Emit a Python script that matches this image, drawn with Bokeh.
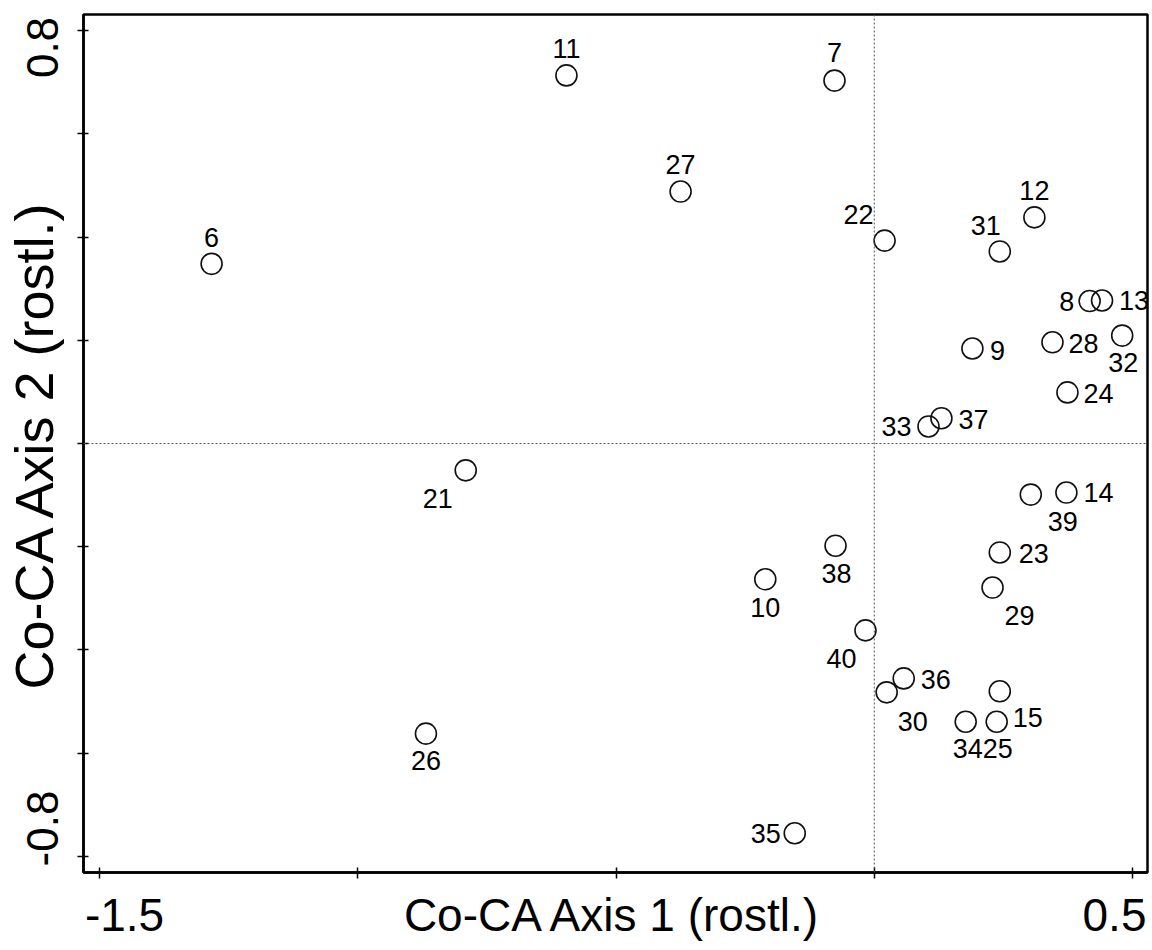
import math
from bokeh.plotting import figure
from bokeh.models import Range1d, FixedTicker, Span, ColumnDataSource, LinearAxis
from bokeh.core.properties import value
from bokeh.embed import file_html
from bokeh.resources import INLINE

# ---- data ----
ids = ["6", "11", "7", "27", "22", "12", "31", "8", "13", "32", "28", "9", "24", "37", "33",
       "21", "14", "39", "38", "23", "10", "29", "40", "36", "30", "15", "34", "25", "26", "35"]
axis1 = [-1.283, -0.596, -0.077, -0.375, 0.020, 0.310, 0.243, 0.417, 0.441, 0.480, 0.345, 0.190, 0.374, 0.130, 0.105,
         -0.791, 0.372, 0.303, -0.075, 0.243, -0.211, 0.229, -0.017, 0.057, 0.024, 0.243, 0.177, 0.237, -0.868, -0.154]
axis2 = [0.348, 0.713, 0.703, 0.488, 0.393, 0.438, 0.372, 0.276, 0.277, 0.209, 0.196, 0.184, 0.099, 0.049, 0.033,
         -0.052, -0.095, -0.099, -0.198, -0.211, -0.263, -0.279, -0.362, -0.455, -0.482, -0.480, -0.539, -0.539, -0.562, -0.755]
x_ticks = [-1.5, -1.0, -0.5, 0.0, 0.5]
y_ticks = [-0.8, -0.6, -0.4, -0.2, 0.0, 0.2, 0.4, 0.6, 0.8]
x_tick_labels = ["-1.5", "0.5"]
y_tick_labels = ["-0.8", "0.8"]
x_title = "Co-CA Axis 1 (rostl.)"
y_title = "Co-CA Axis 2 (rostl.)"

# ---- label placement (screen px: dx right, dy down) ----
label_offsets = {
    "6": (0, -26), "11": (0, -27), "7": (0, -28), "27": (0, -27), "22": (-26, -26),
    "12": (0, -27), "31": (-14, -26), "8": (-23, 0), "13": (32, 0), "32": (1, 27),
    "28": (31, 1), "9": (25, 2), "24": (31, 1), "37": (32, 1), "33": (-32, 0),
    "21": (-28, 28), "14": (32, 0), "39": (32, 27), "38": (1, 28), "23": (34, 1),
    "10": (0, 28), "29": (27, 28), "40": (-24, 28), "36": (32, 1), "30": (26, 29),
    "15": (28, 26), "34": (2, 27), "25": (1, 27), "26": (0, 27), "35": (-29, 0),
}

FONT = "Liberation Sans"
W, H = 1152, 950
FL, FR, FT, FB = 83, 1147, 14, 872          # frame edges in px
xr = (-1.531, 0.529)
yr = (-0.831, 0.831)
ppx = (FR - FL) / (xr[1] - xr[0])
ppy = (FB - FT) / (yr[1] - yr[0])


def px_x(px):
    return round(xr[0] + (px - FL) / ppx, 4)


def px_y(py):
    return round(yr[1] - (py - FT) / ppy, 4)


p = figure(width=W, height=H, output_backend="svg", toolbar_location=None,
           x_range=Range1d(*xr), y_range=Range1d(*yr),
           min_border_left=FL, min_border_right=W - FR, min_border_top=FT, min_border_bottom=H - FB)
p.background_fill_color = "white"
p.border_fill_color = "white"
p.grid.visible = False
p.outline_line_color = "black"
p.outline_line_width = 2.5

for ax, ticks in ((p.xaxis[0], x_ticks), (p.yaxis[0], y_ticks)):
    ax.ticker = FixedTicker(ticks=ticks)
    ax.major_label_text_font_size = "0px"
    ax.major_label_text_color = None
    ax.major_label_standoff = 0
    ax.axis_line_color = "black"
    ax.axis_line_width = 2.5
    ax.major_tick_line_color = "black"
    ax.major_tick_line_width = 1.5
    ax.major_tick_in = 5
    ax.major_tick_out = 6
    ax.minor_tick_line_color = None

# label axes: only end labels, placed flush with the frame corners
xl_pos = [px_x(124), px_x(613), px_x(1114)]
xlab = LinearAxis(ticker=FixedTicker(ticks=xl_pos),
                  major_label_overrides={xl_pos[0]: x_tick_labels[0], xl_pos[1]: x_title,
                                         xl_pos[2]: x_tick_labels[1]})
yl_pos = [px_y(828), px_y(47)]
ylab = LinearAxis(ticker=FixedTicker(ticks=yl_pos),
                  major_label_overrides={yl_pos[0]: y_tick_labels[0], yl_pos[1]: y_tick_labels[1]},
                  major_label_orientation="parallel",
                  axis_label=y_title)
for ax in (xlab, ylab):
    ax.axis_line_color = None
    ax.major_tick_line_color = None
    ax.minor_tick_line_color = None
    ax.major_tick_in = 0
    ax.major_tick_out = 0
    ax.minor_tick_in = 0
    ax.minor_tick_out = 0
    ax.major_label_text_font = FONT
    ax.major_label_text_color = "black"
xlab.major_label_text_font_size = "46px"
xlab.major_label_standoff = 10
ylab.major_label_text_font_size = "44px"
ylab.major_label_standoff = 19
ylab.axis_label_text_font = FONT
ylab.axis_label_text_font_style = "normal"
ylab.axis_label_text_font_size = "54px"
ylab.axis_label_text_color = "black"
ylab.axis_label_standoff = -39
p.add_layout(xlab, "below")
p.add_layout(ylab, "left")

p.add_layout(Span(location=0, dimension="height", line_color="#555555", line_width=1, line_dash="2 2"))
p.add_layout(Span(location=0, dimension="width", line_color="#555555", line_width=1, line_dash="2 2"))

src = ColumnDataSource(dict(
    x=axis1, y=axis2, lab=ids,
    dx=[label_offsets[i][0] for i in ids],
    dy=[label_offsets[i][1] for i in ids],
))
p.scatter("x", "y", source=src, marker="circle", size=21, fill_color=None,
          line_color="#111111", line_width=1.6)
p.text("x", "y", text="lab", source=src, x_offset="dx", y_offset="dy",
       text_align="center", text_baseline="middle",
       text_font=value(FONT), text_font_size="27px", text_color="black")

open("out.html", "w").write(file_html(p, INLINE))
